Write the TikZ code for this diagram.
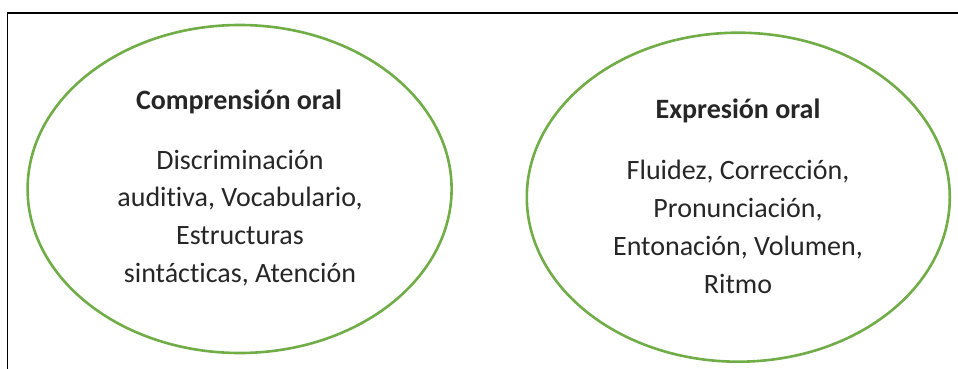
\documentclass[tikz,border=0pt]{standalone}
\usepackage{fontspec}
\setmainfont{Carlito}[Ligatures={NoCommon}]
\usepackage{xcolor}
\usetikzlibrary{shapes.geometric,positioning}
\definecolor{ovalgreen}{HTML}{70AD47}
\definecolor{txtgray}{HTML}{262626}

\tikzset{
  oval/.style={draw=ovalgreen, line width=2.6pt, ellipse, inner sep=0pt},
  titletext/.style={font=\fontsize{28}{32}\selectfont\bfseries, text=txtgray},
  bodytext/.style={font=\fontsize{28}{37.8}\selectfont, text=txtgray, align=center}
}

\begin{document}
\begin{tikzpicture}[x=1pt,y=1pt]
\useasboundingbox (0,0) rectangle (958,-369);
\draw [line width=1.4pt] (7.5,-369) -- (7.5,-13) -- (958,-13);

\node [oval, minimum width=424, minimum height=328] (comp) at (239.6,-189) {};
\node [oval, minimum width=423, minimum height=329] (expr) at (738.3,-197.2) {};

\node [titletext] (comptitle) at (239,-102) {Comprensión oral};
\node [bodytext] (compbody) at (240,-218) {Discriminación\\auditiva, Vocabulario,\\Estructuras\\sintácticas, Atención};

\node [titletext] (exprtitle) at (738,-111) {Expresión oral};
\node [bodytext] (exprbody) at (738,-227) {Fluidez, Corrección,\\Pronunciación,\\Entonación, Volumen,\\Ritmo};
\end{tikzpicture}
\end{document}
